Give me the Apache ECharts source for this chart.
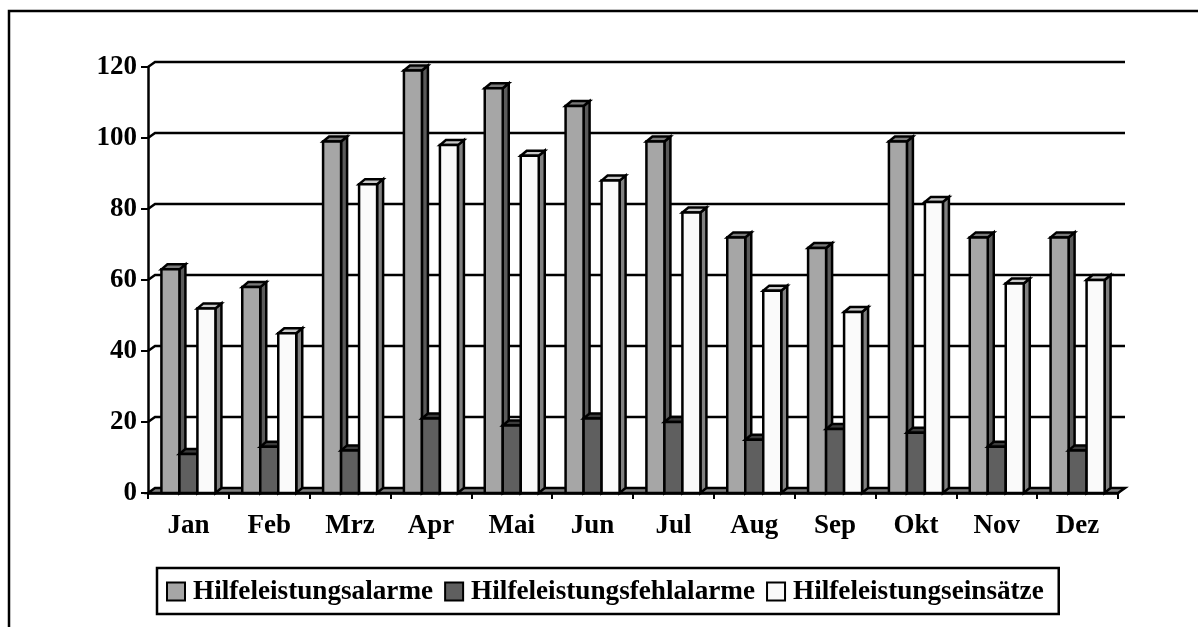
<!DOCTYPE html>
<html>
<head>
<meta charset="utf-8">
<style>html,body{margin:0;padding:0;background:#fff}</style>
<script src="https://cdn.jsdelivr.net/npm/echarts@6/dist/echarts.min.js"></script>
</head>
<body>
<div id="main" style="width:1198px;height:627px"></div>
<script>
var months = ['Jan', 'Feb', 'Mrz', 'Apr', 'Mai', 'Jun', 'Jul', 'Aug', 'Sep', 'Okt', 'Nov', 'Dez'];
var alarme = [63, 58, 99, 119, 114, 109, 99, 72, 69, 99, 72, 72];
var fehlalarme = [11, 13, 12, 21, 19, 21, 20, 15, 18, 17, 13, 12];
var einsaetze = [52, 45, 87, 98, 95, 88, 79, 57, 51, 82, 59, 60];
var yTicks = [0, 20, 40, 60, 80, 100, 120];

var font = '"Liberation Serif", serif';
var wallX = 7, wallY = 5;   // offset of the back wall
var depthX = 6, depthY = 5; // depth of a column
var barW = 18;
var line = 2.5;

function face(points, fill) {
  return {
    type: 'polygon',
    shape: { points: points },
    style: { fill: fill, stroke: '#000', lineWidth: line, lineJoin: 'miter' }
  };
}

// one 3d column: front, top, side
function bar3d(index, colors) {
  return function (params, api) {
    var base = api.coord([api.value(0), 0]);
    var top = api.coord([api.value(0), api.value(1)]);
    var x0 = base[0] + (index - 1.5) * barW;
    var x1 = x0 + barW;
    return {
      type: 'group',
      children: [
        face([[x1, top[1]], [x1 + depthX, top[1] - depthY], [x1 + depthX, base[1] - depthY], [x1, base[1]]], colors[2]),
        face([[x0, top[1]], [x0 + depthX, top[1] - depthY], [x1 + depthX, top[1] - depthY], [x1, top[1]]], colors[1]),
        face([[x0, top[1]], [x1, top[1]], [x1, base[1]], [x0, base[1]]], colors[0])
      ]
    };
  };
}

// wall grid lines and the floor, drawn behind the columns
function wallLine(params, api) {
  var y = api.coord([0, api.value(0)])[1];
  var area = params.coordSys;
  var xl = area.x, xr = area.x + area.width;
  if (api.value(0) === 0) {
    return face([[xl, y], [xl + wallX, y - wallY], [xr + wallX, y - wallY], [xr, y]], '#808080');
  }
  return {
    type: 'polyline',
    shape: { points: [[xl, y], [xl + wallX, y - wallY], [xr + wallX, y - wallY]] },
    style: { fill: 'none', stroke: '#000', lineWidth: line }
  };
}

function barSeries(name, values, index, colors) {
  return {
    name: name,
    type: 'custom',
    renderItem: bar3d(index, colors),
    encode: { x: 0, y: 1 },
    itemStyle: { color: colors[0], borderColor: '#000', borderWidth: line },
    data: values.map(function (v, i) { return [months[i], v]; }),
    z: 3 + index
  };
}

var chart = echarts.init(document.getElementById('main'));
chart.setOption({
  animation: false,
  backgroundColor: '#fff',
  graphic: [{
    type: 'polyline',
    shape: { points: [[9, 640], [9, 11], [1210, 11]] },
    style: { fill: 'none', stroke: '#000', lineWidth: 2.5 }
  }],
  grid: { left: 148, right: 80, top: 67, bottom: 134 },
  legend: {
    left: 157,
    top: 568,
    padding: [10, 15, 9, 9],
    itemGap: 11,
    itemWidth: 18,
    itemHeight: 18,
    icon: 'rect',
    borderColor: '#000',
    borderWidth: 2.5,
    selectedMode: false,
    textStyle: { fontFamily: font, fontWeight: 'bold', fontSize: 27.2, color: '#000', padding: [0, 0, 0, 3] },
    data: ['Hilfeleistungsalarme', 'Hilfeleistungsfehlalarme', 'Hilfeleistungseinsätze']
  },
  xAxis: {
    type: 'category',
    data: months,
    axisLine: { lineStyle: { color: '#000', width: line } },
    axisTick: { show: true, length: 6, alignWithLabel: false, lineStyle: { color: '#000', width: 2 } },
    axisLabel: { fontFamily: font, fontWeight: 'bold', fontSize: 27, color: '#000', margin: 20 }
  },
  yAxis: {
    type: 'value',
    min: 0,
    max: 120,
    interval: 20,
    splitLine: { show: false },
    axisLine: { show: true, lineStyle: { color: '#000', width: line } },
    axisTick: { show: true, length: 7, lineStyle: { color: '#000', width: 2 } },
    axisLabel: { fontFamily: font, fontWeight: 'bold', fontSize: 27, color: '#000', margin: 11 }
  },
  series: [
    {
      name: 'wall',
      type: 'custom',
      renderItem: wallLine,
      encode: { y: 0 },
      silent: true,
      data: yTicks.map(function (t) { return [t]; }),
      z: 1
    },
    barSeries('Hilfeleistungsalarme', alarme, 0, ['#a6a6a6', '#7a7a7a', '#5a5a5a']),
    barSeries('Hilfeleistungsfehlalarme', fehlalarme, 1, ['#5f5f5f', '#3c3c3c', '#3c3c3c']),
    barSeries('Hilfeleistungseinsätze', einsaetze, 2, ['#fafafa', '#c8c8c8', '#808080'])
  ]
});
</script>
</body>
</html>
